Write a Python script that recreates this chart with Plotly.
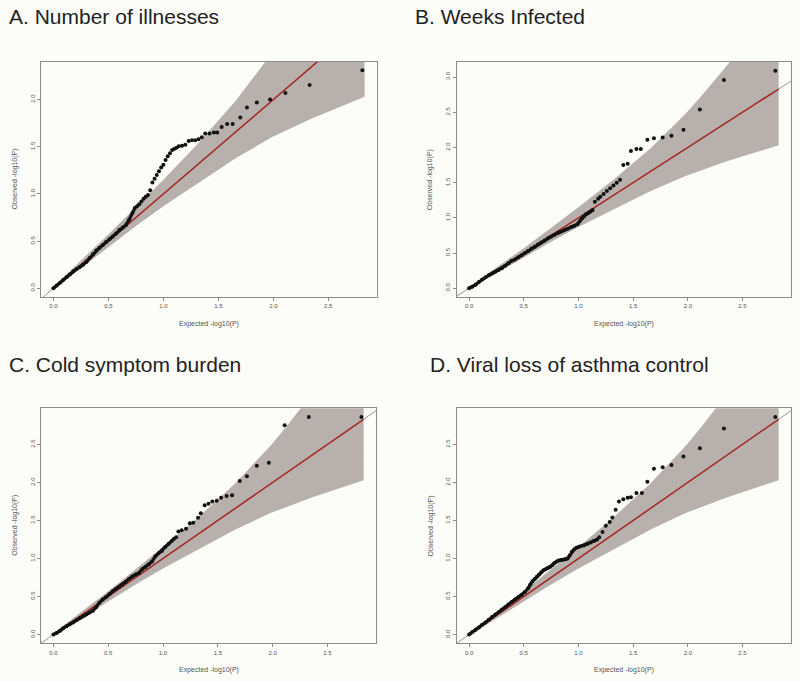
import plotly.graph_objects as go

# ---------------- data ----------------
titles = ["A. Number of illnesses", "B. Weeks Infected",
          "C. Cold symptom burden", "D. Viral loss of asthma control"]
x_label = "Expected -log10(P)"
y_label = "Observed -log10(P)"

x_ticks = [0.0, 0.5, 1.0, 1.5, 2.0, 2.5]
y_ticks_a = [0.0, 0.5, 1.0, 1.5, 2.0]
y_ticks_b = [0.0, 0.5, 1.0, 1.5, 2.0, 2.5, 3.0]
y_ticks_c = [0.0, 0.5, 1.0, 1.5, 2.0, 2.5]
y_ticks_d = [0.0, 0.5, 1.0, 1.5, 2.0, 2.5]

# 95% confidence band (same for every panel)
band_x = [0.0006, 0.10, 0.25, 0.50, 0.75, 1.00, 1.32, 1.66, 1.985, 2.13, 2.35, 2.83]
band_lo = [0.0, 0.078, 0.212, 0.44, 0.66, 0.87, 1.12, 1.38, 1.60, 1.68, 1.80, 2.03]
band_hi = [0.0008, 0.126, 0.295, 0.57, 0.86, 1.15, 1.54, 1.99, 2.49, 2.74, 3.15, 4.13]

ref_line = [0.0, 2.83]        # red expected line
abline = [-1.0, 4.0]          # grey y = x line

a_expected = [0.00, 0.03, 0.06, 0.09, 0.12, 0.15, 0.18, 0.21, 0.24, 0.27, 0.30, 0.33, 0.36,
              0.39, 0.42, 0.45, 0.48, 0.51, 0.54, 0.57, 0.60, 0.63, 0.66, 0.69, 0.72,
              0.74, 0.76, 0.78, 0.80, 0.82, 0.84, 0.86, 0.88, 0.90, 0.92, 0.94, 0.96, 0.98,
              1.00, 1.02, 1.04, 1.06, 1.08, 1.10, 1.12, 1.14,
              1.17, 1.20, 1.23, 1.26, 1.29, 1.32, 1.35,
              1.38, 1.42, 1.46, 1.49, 1.53, 1.58, 1.63, 1.70, 1.76, 1.85, 1.97, 2.11, 2.33, 2.81]
a_observed = [0.00, 0.03, 0.06, 0.09, 0.12, 0.15, 0.18, 0.205, 0.225, 0.25, 0.28, 0.32, 0.36,
              0.40, 0.43, 0.46, 0.49, 0.52, 0.55, 0.58, 0.62, 0.645, 0.67, 0.73, 0.80,
              0.85, 0.87, 0.89, 0.92, 0.95, 0.97, 0.99, 1.04, 1.12, 1.16, 1.20, 1.24, 1.28,
              1.31, 1.36, 1.40, 1.43, 1.465, 1.48, 1.49, 1.505,
              1.51, 1.52, 1.56, 1.57, 1.57, 1.58, 1.60,
              1.64, 1.64, 1.65, 1.65, 1.71, 1.74, 1.74, 1.81, 1.915, 1.97, 2.00, 2.07, 2.155, 2.31]

b_expected = [0.00, 0.03, 0.06, 0.09, 0.12, 0.15, 0.18, 0.21, 0.24, 0.27, 0.30, 0.33, 0.36,
              0.39, 0.42, 0.45, 0.48, 0.51, 0.54, 0.57, 0.60, 0.63, 0.66, 0.69, 0.72, 0.75,
              0.78, 0.81, 0.84, 0.87, 0.90, 0.93, 0.96, 0.99,
              1.01, 1.03, 1.05, 1.07, 1.09, 1.11, 1.13,
              1.15, 1.18, 1.20, 1.23, 1.26, 1.29, 1.32, 1.35, 1.38, 1.41, 1.45, 1.48, 1.53,
              1.57, 1.63, 1.69, 1.77, 1.85, 1.96, 2.11, 2.33, 2.80]
b_observed = [0.00, 0.02, 0.05, 0.09, 0.125, 0.155, 0.185, 0.21, 0.235, 0.26, 0.285, 0.32, 0.355,
              0.39, 0.41, 0.44, 0.47, 0.50, 0.53, 0.565, 0.59, 0.62, 0.65, 0.68, 0.71, 0.735,
              0.76, 0.785, 0.805, 0.825, 0.845, 0.865, 0.885, 0.91,
              0.95, 0.99, 1.02, 1.05, 1.07, 1.09, 1.11,
              1.23, 1.27, 1.30, 1.34, 1.38, 1.42, 1.46, 1.50, 1.54, 1.75, 1.77, 1.95, 1.98,
              1.98, 2.11, 2.13, 2.14, 2.165, 2.25, 2.54, 2.96, 3.09]

c_expected = [0.00, 0.03, 0.06, 0.09, 0.12, 0.15, 0.18, 0.21, 0.24, 0.27, 0.30, 0.33, 0.36,
              0.39, 0.42, 0.45, 0.48, 0.51, 0.54, 0.57, 0.60, 0.63, 0.66, 0.69, 0.72, 0.75,
              0.78, 0.81, 0.84, 0.87, 0.90, 0.93, 0.96, 0.99,
              1.02, 1.05, 1.08, 1.10,
              1.12, 1.14, 1.17, 1.21, 1.245, 1.276, 1.32, 1.345, 1.38, 1.415, 1.45, 1.49,
              1.53, 1.58, 1.63, 1.70, 1.765, 1.856, 1.965, 2.11, 2.33, 2.81]
c_observed = [0.00, 0.02, 0.05, 0.085, 0.11, 0.135, 0.16, 0.19, 0.215, 0.24, 0.265, 0.29, 0.315,
              0.36, 0.42, 0.46, 0.49, 0.53, 0.57, 0.60, 0.63, 0.66, 0.69, 0.73, 0.765, 0.79,
              0.81, 0.86, 0.89, 0.92, 0.96, 1.03, 1.07, 1.10,
              1.15, 1.19, 1.23, 1.26,
              1.28, 1.355, 1.37, 1.39, 1.464, 1.47, 1.535, 1.595, 1.70, 1.72, 1.75, 1.76,
              1.80, 1.82, 1.83, 2.02, 2.08, 2.22, 2.26, 2.75, 2.86, 2.86]

d_expected = [0.00, 0.03, 0.06, 0.09, 0.12, 0.15, 0.18, 0.21, 0.24, 0.27, 0.30, 0.33, 0.36,
              0.39, 0.42, 0.45, 0.48, 0.51, 0.54,
              0.56, 0.58, 0.60, 0.62, 0.64, 0.66, 0.68, 0.70, 0.72, 0.74, 0.76, 0.78, 0.80,
              0.82, 0.84, 0.86, 0.88, 0.90, 0.92, 0.94, 0.96, 0.98, 1.00,
              1.02, 1.05, 1.08, 1.11, 1.14, 1.17,
              1.19, 1.22, 1.25, 1.286, 1.31, 1.34, 1.37, 1.41, 1.45, 1.48, 1.53, 1.58, 1.63,
              1.69, 1.77, 1.85, 1.96, 2.11, 2.33, 2.80]
d_observed = [0.00, 0.035, 0.065, 0.095, 0.13, 0.16, 0.195, 0.23, 0.265, 0.295, 0.33, 0.36, 0.395,
              0.43, 0.46, 0.49, 0.52, 0.56, 0.61,
              0.66, 0.70, 0.73, 0.76, 0.79, 0.82, 0.845, 0.86, 0.875, 0.89, 0.91, 0.94, 0.96,
              0.975, 0.98, 0.985, 0.99, 1.00, 1.04, 1.09, 1.12, 1.14, 1.15,
              1.16, 1.17, 1.19, 1.21, 1.23, 1.25,
              1.28, 1.35, 1.43, 1.48, 1.54, 1.64, 1.75, 1.78, 1.80, 1.805, 1.86, 1.86, 2.01,
              2.18, 2.20, 2.23, 2.34, 2.45, 2.71, 2.86]

# ---------------- layout geometry (pixels in the 800x681 window) ----------------
W, H = 800, 681
boxes = [  # left, right, top, bottom
    (41, 377, 62, 297),
    (456.7, 791, 62, 297),
    (41, 376, 408.3, 643.3),
    (456.7, 791, 408.3, 643.3),
]
y_ranges = [(-0.092, 2.398), (-0.124, 3.214), (-0.114, 2.974), (-0.114, 2.974)]
x_range = (-0.113, 2.943)
title_pos = [(7, 17), (413, 17), (7, 365), (428, 365)]
dense_until = [0.74, 1.13, 1.10, 1.17]   # where points merge into a solid trail

data = [(a_expected, a_observed, y_ticks_a), (b_expected, b_observed, y_ticks_b),
        (c_expected, c_observed, y_ticks_c), (d_expected, d_observed, y_ticks_d)]

BG = "#fcfcf8"
BAND = "rgb(184,176,172)"
RED = "rgb(165,40,38)"
GREY = "rgb(150,150,150)"
AXC = "rgb(140,140,140)"
TXT = "#555555"
FONT = "Liberation Sans, Arial, sans-serif"


def px(v, total):
    return v / total


fig = go.Figure()
layout = dict(width=W, height=H, margin=dict(l=0, r=0, t=0, b=0),
              paper_bgcolor=BG, plot_bgcolor=BG, showlegend=False,
              font=dict(family=FONT))
annotations = []

for k, ((ex, ob, yt), box, yr, tp, title, cut) in enumerate(
        zip(data, boxes, y_ranges, title_pos, titles, dense_until)):
    sfx = "" if k == 0 else str(k + 1)
    xa, ya = "x" + sfx, "y" + sfx
    l, r, t, b = box
    fig.add_trace(go.Scatter(x=band_x + band_x[::-1], y=band_lo + band_hi[::-1],
                             fill="toself", fillcolor=BAND, mode="lines",
                             line=dict(width=0, color=BAND), hoverinfo="skip",
                             xaxis=xa, yaxis=ya))
    fig.add_trace(go.Scatter(x=abline, y=abline, mode="lines",
                             line=dict(color=GREY, width=1), hoverinfo="skip",
                             xaxis=xa, yaxis=ya))
    fig.add_trace(go.Scatter(x=ref_line, y=ref_line, mode="lines",
                             line=dict(color=RED, width=1.5), hoverinfo="skip",
                             xaxis=xa, yaxis=ya))
    dx = [v for v in ex if v <= cut]
    dy = ob[:len(dx)]
    fig.add_trace(go.Scatter(x=dx, y=dy, mode="lines",
                             line=dict(color="#111111", width=3.2), hoverinfo="skip",
                             xaxis=xa, yaxis=ya))
    fig.add_trace(go.Scatter(x=ex, y=ob, mode="markers",
                             marker=dict(color="#111111", size=4, line=dict(width=0)),
                             xaxis=xa, yaxis=ya))
    axis_common = dict(showgrid=False, zeroline=False, showline=True, mirror=True,
                       linecolor=AXC, linewidth=1, ticks="outside", ticklen=3,
                       tickcolor=AXC, tickwidth=1, tickformat=".1f",
                       tickfont=dict(size=6, color=TXT, family=FONT))
    layout["xaxis" + sfx] = dict(axis_common, domain=[px(l, W), px(r, W)], range=list(x_range),
                                 tickvals=x_ticks, anchor=ya)
    layout["yaxis" + sfx] = dict(axis_common, domain=[1 - px(b, H), 1 - px(t, H)], range=list(yr),
                                 tickvals=yt, tickangle=-90, anchor=xa)
    annotations.append(dict(text=title, x=px(tp[0], W), y=1 - px(tp[1], H),
                            xref="paper", yref="paper",
                            xanchor="left", yanchor="middle", showarrow=False,
                            font=dict(size=21, color="#222222", family=FONT)))
    annotations.append(dict(text=x_label, x=px((l + r) / 2, W), y=1 - px(b + 27, H),
                            xref="paper", yref="paper", xanchor="center", yanchor="middle",
                            showarrow=False, font=dict(size=7, color=TXT, family=FONT)))
    annotations.append(dict(text=y_label, x=px(l - 26, W), y=1 - px((t + b) / 2, H),
                            xref="paper", yref="paper", xanchor="center", yanchor="middle",
                            textangle=-90, showarrow=False,
                            font=dict(size=7, color=TXT, family=FONT)))

layout["annotations"] = annotations
fig.update_layout(**layout)
fig.write_html("out.html", config={"displayModeBar": False},
               post_script="document.body.style.margin='0px';"
                           "document.body.style.background='" + BG + "';")
